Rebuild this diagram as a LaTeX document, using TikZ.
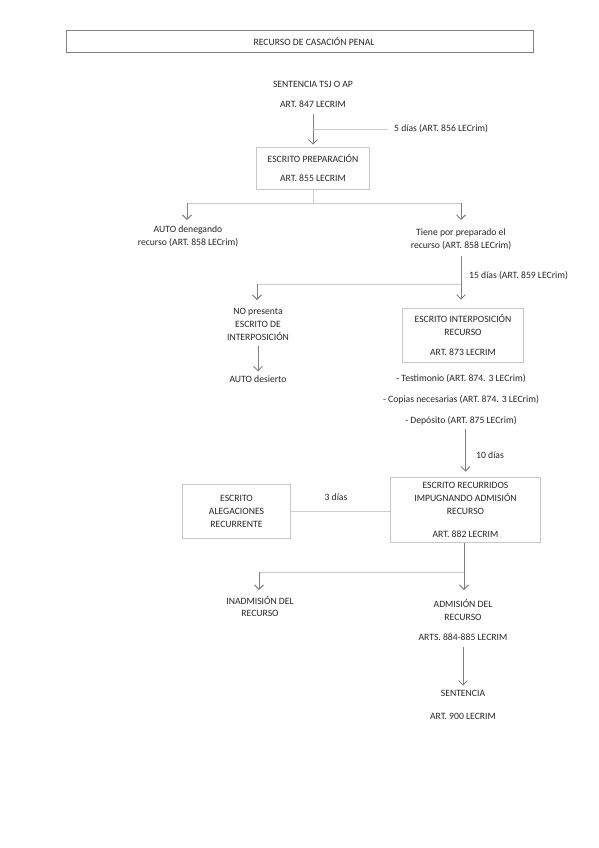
\documentclass[tikz,border=0pt]{standalone}
\usepackage{fontspec}
\setmainfont{Carlito}
\usetikzlibrary{arrows.meta,calc}
\tikzstyle{txt}=[align=center,font=\fontsize{9.7}{13}\selectfont,text=black!85,inner sep=2pt]
\tikzstyle{caja}=[txt,draw=black!22,line width=0.8pt]
\tikzstyle{flecha}=[draw=black!50,line width=0.9pt,-{Straight Barb[length=4.5pt,width=9pt]}]
\tikzstyle{linea}=[draw=black!20,line width=0.9pt]

\begin{document}
\begin{tikzpicture}[x=1bp,y=-1bp]
	\useasboundingbox (0,0) rectangle (599,848);
	% titulo
	\draw[draw=black!50,line width=1pt] (66,30) rectangle (533,52);
	\node[txt] (titulo) at (314,41.5) {RECURSO DE CASACIÓN PENAL};
	% preparacion
	\node[txt] (sentencia) at (313,94) {SENTENCIA TSJ O AP\\[7pt]ART. 847 LECRIM};
	\node[caja,minimum width=113,minimum height=42] (preparacion) at (313,168) {ESCRITO PREPARACIÓN\\[7pt]ART. 855 LECRIM};
	\draw[flecha,shorten <=5pt,shorten >=2pt] (sentencia) -- (preparacion);
	\coordinate (c5) at (313,129);
	\node[txt,anchor=west] (plazo5) at (392,129) {5 días (ART. 856 LECrim)};
	\draw[linea] (c5) -- ($(plazo5.west)+(-4,0)$);
	\node[txt] (denegando) at (188,236.5) {AUTO denegando\\recurso (ART. 858 LECrim)};
	\node[txt] (preparado) at (461,239.5) {Tiene por preparado el\\recurso (ART. 858 LECrim)};
	\coordinate (bus1) at (313,203);
	\coordinate (bus1L) at (187,203);
	\coordinate (bus1R) at (461,203);
	\draw[linea] (preparacion.south) -- (bus1);
	\draw[linea] (bus1L) -- (bus1R);
	\draw[flecha] (bus1L) -- (187,220);
	\draw[flecha] (bus1R) -- (461,220);
	% interposicion
	\node[txt,anchor=west] (plazo15) at (467,276) {15 días (ART. 859 LECrim)};
	\node[txt] (nopresenta) at (258,324) {NO presenta\\ESCRITO DE\\INTERPOSICIÓN};
	\node[txt] (desierto) at (258,379) {AUTO desierto};
	\node[caja,minimum width=122,minimum height=54] (interposicion) at (463,335) {ESCRITO INTERPOSICIÓN\\RECURSO\\[7pt]ART. 873 LECRIM};
	\coordinate (bus2) at (461,284);
	\coordinate (bus2L) at (257,284);
	\draw[flecha,shorten <=4pt,shorten >=8pt] (preparado.south -| bus2) -- (bus2 |- interposicion.north);
	\draw[linea] (bus2) -- (bus2L);
	\draw[flecha] (bus2L) -- (257,300);
	\draw[flecha,shorten <=4pt,shorten >=2pt] (nopresenta) -- (desierto);
	\node[txt] (requisitos) at (461,400) {- Testimonio (ART. 874. 3 LECrim)\\[8pt]- Copias necesarias (ART. 874. 3 LECrim)\\[8pt]- Depósito (ART. 875 LECrim)};
	% impugnacion
	\node[caja,minimum width=151,minimum height=66] (recurridos) at (465.5,510) {ESCRITO RECURRIDOS\\IMPUGNANDO ADMISIÓN\\RECURSO\\[10pt]ART. 882 LECRIM};
	\node[caja,minimum width=109,minimum height=54] (alegaciones) at (236.5,511) {ESCRITO\\ALEGACIONES\\RECURRENTE};
	\draw[flecha,shorten <=2pt,shorten >=5pt] (requisitos.south -| recurridos) -- (recurridos.north);
	\node[txt,anchor=west] (plazo10) at (474,455) {10 días};
	\draw[linea] (alegaciones.east) -- (alegaciones.east -| recurridos.west);
	\node[txt] (plazo3) at (336,497) {3 días};
	% admision
	\node[txt] (inadmision) at (260,606.5) {INADMISIÓN DEL\\RECURSO};
	\node[txt] (admision) at (463,620) {ADMISIÓN DEL\\RECURSO\\[8pt]ARTS. 884-885 LECRIM};
	\node[txt] (sentfinal) at (463,704.5) {SENTENCIA\\[10pt]ART. 900 LECRIM};
	\coordinate (bus3) at (464,572);
	\coordinate (bus3L) at (259,572);
	\draw[flecha] (recurridos.south -| bus3) -- (464,590);
	\draw[linea] (bus3) -- (bus3L);
	\draw[flecha] (bus3L) -- (259,590);
	\draw[flecha,shorten <=4pt,shorten >=2pt] (admision) -- (sentfinal);
\end{tikzpicture}
\end{document}
